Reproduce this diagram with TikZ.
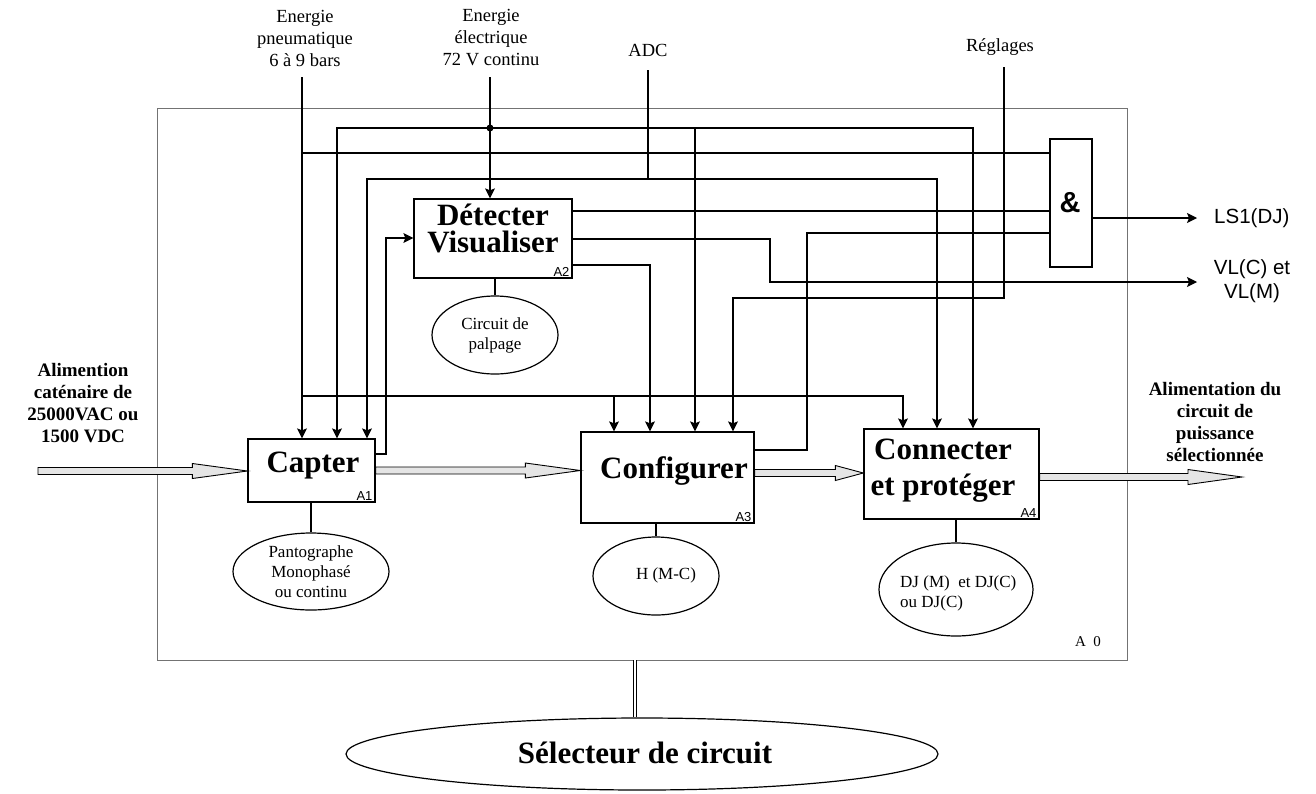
\documentclass[tikz,border=0pt]{standalone}
\usepackage{fontspec}
\setmainfont{Liberation Serif}
\setsansfont{Liberation Sans}
\usetikzlibrary{arrows.meta,shapes.geometric,calc}
\newcommand{\blockarrow}[3]{\filldraw[fill=black!10,draw=black,line width=0.9pt]
  ($(#1)+(0,-3.5)$) -- ($(#2)+(-#3,-3.5)$) -- ($(#2)+(-#3,-7.5)$) -- (#2) --
  ($(#2)+(-#3,7.5)$) -- ($(#2)+(-#3,3.5)$) -- ($(#1)+(0,3.5)$) -- cycle;}
\begin{document}
\begin{tikzpicture}[x=1pt,y=-1pt,
  line/.style={line width=1.2pt},
  arr/.style={line width=1.2pt,-{Stealth[length=10pt,width=10pt,inset=2pt]}},
  box/.style={draw,line width=1.3pt,inner sep=0pt},
  framebox/.style={draw=black!55,line width=0.8pt,inner sep=0pt},
  bigtitle/.style={font=\fontsize{31}{27}\selectfont\bfseries,align=center,inner sep=0pt},
  ell/.style={ellipse,draw,line width=1.2pt,inner sep=0pt},
  etext/.style={font=\fontsize{17}{20}\selectfont,align=center,inner sep=0pt},
  toplab/.style={font=\fontsize{18.5}{22}\selectfont,align=center,inner sep=0pt},
  side/.style={font=\fontsize{19}{21.8}\selectfont\bfseries,align=center,inner sep=0pt},
  sans/.style={font=\sffamily\fontsize{20.5}{23.5}\selectfont,align=center,inner sep=0pt},
  tag/.style={font=\sffamily\fontsize{13}{13}\selectfont,inner sep=0pt},
  jdot/.style={circle,fill,inner sep=0pt,minimum size=7pt}
]
\useasboundingbox (0,0) rectangle (1316,793);

% frame A0
\node[framebox,minimum width=970pt,minimum height=552pt] (a0) at (642,384) {};
\node[font=\fontsize{15}{15}\selectfont,inner sep=0pt] (a0lab) at (1088,642) {A\ \ 0};

% boxes
\node[box,minimum width=127pt,minimum height=63pt] (capter) at (311.5,470.5) {};
\node[box,minimum width=158pt,minimum height=79pt] (det) at (493,238.5) {};
\node[box,minimum width=173pt,minimum height=91pt] (config) at (667.5,477.5) {};
\node[box,minimum width=175pt,minimum height=90pt] (connect) at (951.5,474) {};
\node[box,minimum width=42pt,minimum height=128pt] (andg) at (1071,203) {};

\node[bigtitle] (tcap) at (313,466) {Capter};
\node[bigtitle,anchor=base] (tdet1) at (493,225) {Détecter};
\node[bigtitle,anchor=base] (tdet2) at (493,252) {Visualiser};
\node[bigtitle] (tconf) at (674,471) {Configurer};
\node[bigtitle,font=\fontsize{31}{36}\selectfont\bfseries] (tconn) at (943,471) {Connecter\\et protéger};
\node[font=\sffamily\bfseries\fontsize{29}{29}\selectfont,inner sep=0pt] (amp) at (1070,203) {\&};

\node[tag,anchor=south east] (ta1) at ($(capter.south east)+(-3,-2)$) {A1};
\node[tag,anchor=south east] (ta2) at ($(det.south east)+(-3,-2)$) {A2};
\node[tag,anchor=south east] (ta3) at ($(config.south east)+(-3,-2)$) {A3};
\node[tag,anchor=south east] (ta4) at ($(connect.south east)+(-3,-2)$) {A4};

% ellipses
\node[ell,etext,minimum width=156pt,minimum height=77pt] (pan) at (311,571.5) {Pantographe\\Monophasé\\ou continu};
\node[ell,etext,minimum width=126pt,minimum height=78pt] (palp) at (495,335) {Circuit de\\palpage};
\node[ell,minimum width=126pt,minimum height=78pt] (hmc) at (656,576) {};
\node[etext] (hmct) at (666,575) {H (M-C)};
\node[ell,minimum width=154pt,minimum height=93pt] (dj) at (956,589.5) {};
\node[etext,align=left,anchor=west] (djt) at (900,593) {DJ (M)\ \ et DJ(C)\\ou DJ(C)};
\node[ell,minimum width=592pt,minimum height=72pt] (sel) at (642,754) {};
\node[font=\fontsize{31}{31}\selectfont\bfseries,inner sep=0pt] (selt) at (645,753) {Sélecteur de circuit};

\draw[line] (capter.south -| pan.north) -- (pan.north);
\draw[line] (det.south -| palp.north) -- (palp.north);
\draw[line] (config.south -| hmc.north) -- (hmc.north);
\draw[line] (connect.south -| dj.north) -- (dj.north);

\coordinate (selx) at (635,700);
\draw[double,double distance=2.5pt,line width=0.9pt] (selx |- a0.south) -- (selx |- sel.north);

% top labels
\node[toplab] (lpneu) at (305,38) {Energie\\pneumatique\\6 à 9 bars};
\node[toplab] (lelec) at (491,38) {Energie\\électrique\\72 V continu};
\node[toplab] (ladc) at (648,50) {ADC};
\node[toplab] (lreg) at (1000,47) {Réglages};

% side labels
\node[side] (inlab) at (83,403) {Alimention\\caténaire de\\25000VAC ou\\1500 VDC};
\node[side] (outlab) at (1215,422) {Alimentation du\\circuit de\\puissance\\sélectionnée};

\node[sans,anchor=west] (ls1) at (1214,218) {LS1(DJ)};
\node[sans] (vl) at (1252,281) {VL(C) et\\VL(M)};

% pneumatic energy
\coordinate (pneuTop) at (302,77);
\draw[arr] (pneuTop) -- (pneuTop |- capter.north);
\coordinate (pA) at (302,153);
\draw[line] (pA) -- (pA -| andg.west);
\coordinate (pB) at (302,396);
\coordinate (x903) at (903,396);
\coordinate (x614) at (614,396);
\draw[arr] (pB) -- (x903) -- (x903 |- connect.north);
\draw[arr] (x614) -- (x614 |- config.north);

% electric energy
\coordinate (elecTop) at (490,77);
\draw[arr] (elecTop) -- (elecTop |- det.north);
\coordinate (eJ) at (490,128);
\node[jdot] (edot) at (eJ) {};
\coordinate (e337) at (337,128);
\coordinate (e973) at (973,128);
\coordinate (e695) at (695,128);
\draw[arr] (eJ) -- (e337) -- (e337 |- capter.north);
\draw[arr] (eJ) -- (e973) -- (e973 |- connect.north);
\draw[arr] (e695) -- (e695 |- config.north);

% ADC
\coordinate (adcTop) at (648,70);
\coordinate (aJ) at (648,179);
\coordinate (a367) at (367,179);
\coordinate (a937) at (937,179);
\draw[line] (adcTop) -- (aJ);
\draw[arr] (aJ) -- (a367) -- (a367 |- capter.north);
\draw[arr] (aJ) -- (a937) -- (a937 |- connect.north);

% Reglages
\coordinate (regTop) at (1004,67);
\coordinate (rB) at (1004,298);
\coordinate (r733) at (733,298);
\draw[arr] (regTop) -- (rB) -- (r733) -- (r733 |- config.north);

% Capter -> Detecter
\coordinate (cA) at (386,454);
\coordinate (cB) at (386,238);
\draw[arr] (cA -| capter.east) -- (cA) -- (cB) -- (cB -| det.west);

% Detecter outputs
\coordinate (d1) at (600,211);
\draw[line] (d1 -| det.east) -- (d1 -| andg.west);
\coordinate (d2) at (770,239);
\coordinate (d3) at (770,282);
\coordinate (vlEnd) at (1197,282);
\draw[arr] (d2 -| det.east) -- (d2) -- (d3) -- (vlEnd);
\coordinate (d4) at (650,265);
\draw[arr] (d4 -| det.east) -- (d4) -- (d4 |- config.north);

% Configurer -> &
\coordinate (g1) at (807,450);
\coordinate (g2) at (807,233);
\draw[line] (g1 -| config.east) -- (g1) -- (g2) -- (g2 -| andg.west);

% & -> LS1
\coordinate (lsEnd) at (1197,218);
\draw[arr] (lsEnd -| andg.east) -- (lsEnd);

% block arrows
\coordinate (inL) at (38,471);
\path (inL -| capter.west) coordinate (inR);
\blockarrow{inL}{inR}{55}
\path (capter.east) coordinate (b1);
\path (b1 -| config.west) coordinate (b2);
\blockarrow{b1}{b2}{55}
\path (config.east) ++(0,-4.5) coordinate (b3);
\path (b3 -| connect.west) coordinate (b4);
\blockarrow{b3}{b4}{28}
\path (connect.east) ++(0,3) coordinate (b5);
\coordinate (b6) at (1242,477);
\blockarrow{b5}{b6}{54}
\end{tikzpicture}
\end{document}
